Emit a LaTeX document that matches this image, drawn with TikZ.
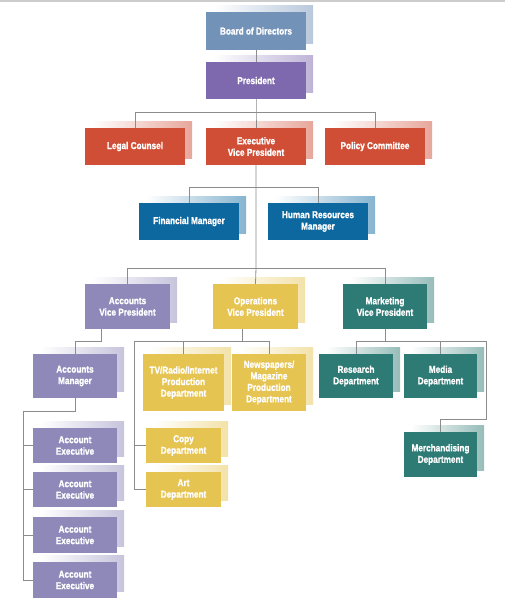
\documentclass[tikz,border=0pt]{standalone}
\usepackage{fontspec}
\setmainfont{Liberation Sans}[FakeStretch=0.82, BoldFeatures={FakeBold=1.2}]
\usetikzlibrary{shadows}
\definecolor{cboard}{HTML}{7292B8}
\definecolor{cpres}{HTML}{7E68AE}
\definecolor{cred}{HTML}{D04E36}
\definecolor{cblue}{HTML}{0D68A0}
\definecolor{cacc}{HTML}{8E89B9}
\definecolor{cyel}{HTML}{E6C452}
\definecolor{cteal}{HTML}{2E7A74}
\definecolor{linegray}{HTML}{8C8C8C}
\definecolor{rulegray}{HTML}{CCCCCC}
\tikzset{
  orgbox/.style={rectangle, fill=#1, text=white, align=center, inner sep=1pt,
    font=\bfseries\fontsize{10}{11.5}\selectfont,
    general shadow={shadow xshift=7pt, shadow yshift=7pt, left color=white, right color=#1!50}},
  sz/.style 2 args={minimum width=#1pt, minimum height=#2pt},
  conn/.style={draw=linegray, line width=0.8pt},
}
\begin{document}
\begin{tikzpicture}[x=1pt,y=-1pt]
\useasboundingbox (0,0) rectangle (505,603);
\draw[rulegray, line width=1.2pt] (0,1) -- (505,1);

% level 1-3
\node[orgbox=cboard, sz={100}{38}] (board) at (256,31) {Board of Directors};
\node[orgbox=cpres, sz={100}{37}] (pres) at (256,80.5) {President};
\node[orgbox=cred, sz={100}{37}] (legal) at (135,146.5) {Legal Counsel};
\node[orgbox=cred, sz={100}{37}] (evp) at (256,146.5) {Executive\\Vice President};
\node[orgbox=cred, sz={100}{37}] (policy) at (375,146.5) {Policy Committee};
\node[orgbox=cblue, sz={100}{37}] (fin) at (189,221.5) {Financial Manager};
\node[orgbox=cblue, sz={100}{37}] (hr) at (318,221.5) {Human Resources\\Manager};

% VPs
\node[orgbox=cacc, sz={85}{45}] (avp) at (127.5,306.5) {Accounts\\Vice President};
\node[orgbox=cyel, sz={85}{45}] (ovp) at (255.5,306.5) {Operations\\Vice President};
\node[orgbox=cteal, sz={84}{45}] (mvp) at (385,306.5) {Marketing\\Vice President};

% accounts
\node[orgbox=cacc, sz={84}{44}] (am) at (75,376) {Accounts\\Manager};
\node[orgbox=cacc, sz={84}{35}] (ae1) at (75,445.5) {Account\\Executive};
\node[orgbox=cacc, sz={84}{35}] (ae2) at (75,489.5) {Account\\Executive};
\node[orgbox=cacc, sz={84}{36}] (ae3) at (75,535) {Account\\Executive};
\node[orgbox=cacc, sz={84}{36}] (ae4) at (75,580) {Account\\Executive};

% operations
\node[orgbox=cyel, sz={81}{57}] (tv) at (183.5,382.5) {TV/Radio/Internet\\Production\\Department};
\node[orgbox=cyel, sz={74}{57}] (news) at (269,382.5) {Newspapers/\\Magazine\\Production\\Department};
\node[orgbox=cyel, sz={75}{35}] (copy) at (183.5,445.5) {Copy\\Department};
\node[orgbox=cyel, sz={75}{35}] (art) at (183.5,489.5) {Art\\Department};

% marketing
\node[orgbox=cteal, sz={74}{44}] (res) at (356,376) {Research\\Department};
\node[orgbox=cteal, sz={73}{44}] (media) at (440.5,376) {Media\\Department};
\node[orgbox=cteal, sz={73}{45}] (merch) at (440.5,454.5) {Merchandising\\Department};

% connectors
\coordinate (b1) at (256,112);
\coordinate (b2) at (256,187);
\coordinate (b3) at (256,268);
\draw[conn] (board.south) -- (pres.north);
\draw[conn] (pres.south) -- (b1) -- (evp.north);
\draw[conn] (b1) -| (legal.north);
\draw[conn] (b1) -| (policy.north);
\draw[conn] (evp.south) -- (b2) -- (b3) -- (ovp.north);
\draw[conn] (b2) -| (fin.north);
\draw[conn] (b2) -| (hr.north);
\draw[conn] (b3) -| (avp.north);
\draw[conn] (b3) -| (mvp.north);

% accounts branch
\coordinate (a1) at (101,341);
\coordinate (a2) at (23,411);
\draw[conn] (a1 |- avp.south) -- (a1) -| (am.north);
\draw[conn] (am.south) |- (a2) -- (a2 |- ae4.west) -- (ae4.west);
\draw[conn] (a2 |- ae1.west) -- (ae1.west);
\draw[conn] (a2 |- ae2.west) -- (ae2.west);
\draw[conn] (a2 |- ae3.west) -- (ae3.west);

% operations branch
\coordinate (o1) at (242,341);
\coordinate (o2) at (134,341);
\draw[conn] (o1 |- ovp.south) -- (o1);
\draw[conn] (o2) -| (news.north);
\draw[conn] (tv.north |- o2) -- (tv.north);
\draw[conn] (o2) -- (o2 |- art.west) -- (art.west);
\draw[conn] (o2 |- copy.west) -- (copy.west);

% marketing branch
\coordinate (m1) at (385,341);
\coordinate (m2) at (486,341);
\coordinate (m3) at (486,419);
\draw[conn] (mvp.south) -- (m1);
\draw[conn] (m2) -| (res.north);
\draw[conn] (media.north |- m2) -- (media.north);
\draw[conn] (m2) -- (m3) -| (merch.north);
\end{tikzpicture}
\end{document}
